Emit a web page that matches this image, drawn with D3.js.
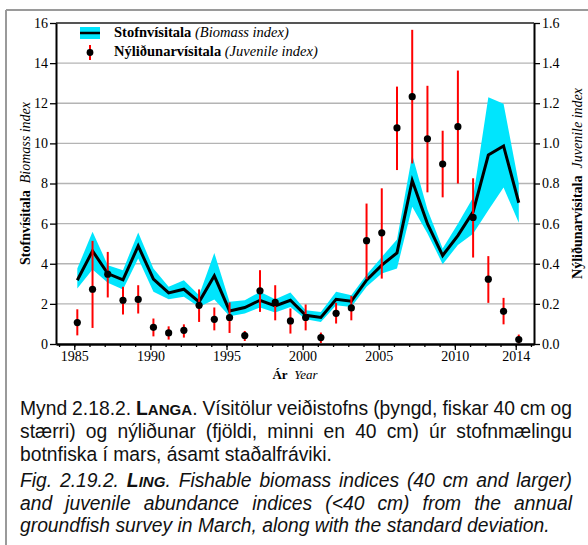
<!DOCTYPE html>
<html><head><meta charset="utf-8">
<script src="https://cdn.jsdelivr.net/npm/d3@7"></script>
<style>body{margin:0;background:#fff} svg{display:block}</style>
</head><body><svg id="c" width="588" height="545"></svg>
<script>
// ---------- data ----------
const years = d3.range(1985, 2015);
const biomass     = [3.18,4.64,3.51,3.20,4.89,3.23,2.55,2.73,2.10,3.40,1.65,1.82,2.18,1.90,2.18,1.43,1.32,2.23,2.13,3.18,3.93,4.54,8.15,6.00,4.41,5.40,6.59,9.42,9.87,7.04];
const biomassHigh = [3.76,5.59,3.93,3.68,5.56,3.76,2.85,3.18,2.43,4.54,2.10,2.18,2.60,2.23,2.57,1.68,1.60,2.60,2.43,3.45,4.34,5.21,9.42,6.70,4.76,6.00,7.30,12.30,11.97,8.00];
const biomassLow  = [2.77,3.71,3.05,2.72,4.26,2.60,2.23,2.35,1.85,2.22,1.38,1.52,1.82,1.57,1.85,1.23,1.10,1.93,1.85,2.85,3.51,3.76,6.84,5.51,3.98,4.93,5.50,6.67,7.80,6.04];
const juvenile     = [0.107,0.273,0.348,0.218,0.222,0.083,0.055,0.068,0.193,0.123,0.132,0.042,0.265,0.207,0.115,0.132,0.032,0.153,0.180,0.515,0.554,1.077,1.233,1.023,0.897,1.083,0.631,0.323,0.163,0.022];
const juvenileHigh = [0.173,0.514,0.459,0.285,0.293,0.127,0.088,0.098,0.272,0.182,0.207,0.065,0.368,0.293,0.177,0.197,0.057,0.205,0.240,0.700,0.776,1.283,1.566,1.287,1.063,1.363,0.826,0.438,0.230,0.047];
const juvenileLow  = [0.043,0.080,0.232,0.147,0.152,0.038,0.022,0.032,0.110,0.068,0.055,0.015,0.160,0.118,0.052,0.068,0.005,0.102,0.118,0.323,0.326,0.867,0.900,0.756,0.731,0.800,0.431,0.205,0.098,0.002];
const leftTicks  = [0,2,4,6,8,10,12,14,16];
const rightTicks = [0,0.2,0.4,0.6,0.8,1.0,1.2,1.4,1.6];
const yearTicks  = [1985,1990,1995,2000,2005,2010,2014];
const minorYearTicks = d3.range(1984, 2016);
const legendLabels = [["Stofnvísitala","(Biomass index)"],["Nýliðunarvísitala","(Juvenile index)"]];
const leftTitle = ["Stofnvísitala","Biomass index"];
const rightTitle = ["Nýliðunarvísitala","Juvenile index"];
const xTitle = ["Ár","Year"];
const captionIs = [
  "Mynd 2.18.2. LANGA. Vísitölur veiðistofns (þyngd, fiskar 40 cm og",
  "stærri) og nýliðunar (fjöldi, minni en 40 cm) úr stofnmælingu",
  "botnfiska í mars, ásamt staðalfráviki."];
const captionEn = [
  "Fig. 2.19.2. LING. Fishable biomass indices (40 cm and larger)",
  "and juvenile abundance indices (<40 cm) from the annual",
  "groundfish survey in March, along with the standard deviation."];

// ---------- layout ----------
const svg = d3.select("#c");
const L = 56, R = 534, T = 23, B = 344;
const serif = "Liberation Serif, Times New Roman, serif";
const sans = "Liberation Sans, Arial, sans-serif";
const off = 0.2;

const x = d3.scaleLinear().domain([1983.8, 2015.2]).range([L, R]);
const yL = d3.scaleLinear().domain([0, 16]).range([B, T]);
const yR = d3.scaleLinear().domain([0, 1.6]).range([B, T]);

// outer frame
svg.append("line").attr("x1",6).attr("x2",588).attr("y1",10).attr("y2",10).attr("stroke","#9a9a9a").attr("stroke-width",2);
svg.append("line").attr("x1",6).attr("x2",6).attr("y1",10).attr("y2",545).attr("stroke","#9a9a9a").attr("stroke-width",2);

// gridlines
svg.append("g").selectAll("line").data(leftTicks.filter(d => d > 0 && d < 16)).join("line")
  .attr("x1", L).attr("x2", R).attr("y1", d => yL(d)).attr("y2", d => yL(d))
  .attr("stroke", "#b4b4b4").attr("stroke-width", 1.3);
svg.append("line").attr("x1", L).attr("x2", R).attr("y1", T).attr("y2", T).attr("stroke", "#555").attr("stroke-width", 2);

// band
const area = d3.area().x((d,i) => x(years[i] + off)).y0((d,i) => yL(biomassLow[i])).y1((d,i) => yL(biomassHigh[i]));
svg.append("path").datum(biomass).attr("d", area).attr("fill", "#00e5fd");
const line = d3.line().x((d,i) => x(years[i] + off)).y(d => yL(d));
svg.append("path").datum(biomass).attr("d", line).attr("fill", "none").attr("stroke", "#000").attr("stroke-width", 3).attr("stroke-linejoin","miter");

// error bars + points
svg.append("g").selectAll("line").data(juvenile).join("line")
  .attr("x1", (d,i) => x(years[i] + off)).attr("x2", (d,i) => x(years[i] + off))
  .attr("y1", (d,i) => yR(juvenileLow[i])).attr("y2", (d,i) => yR(juvenileHigh[i]))
  .attr("stroke", "#ff0000").attr("stroke-width", 2);
svg.append("g").selectAll("circle").data(juvenile).join("circle")
  .attr("cx", (d,i) => x(years[i] + off)).attr("cy", d => yR(d)).attr("r", 3.6).attr("fill", "#000");

// axes
function styleAxis(g) {
  g.select(".domain").attr("stroke", "#000").attr("stroke-width", 2);
  g.selectAll(".tick line").attr("stroke", "#000").attr("stroke-width", 1.3);
  g.selectAll(".tick text").attr("font-family", serif).attr("font-size", 14).attr("fill", "#000");
}
svg.append("g").attr("transform", `translate(${L},0)`)
  .call(d3.axisLeft(yL).tickValues(leftTicks).tickSize(6).tickSizeOuter(0).tickPadding(2).tickFormat(d3.format("d")))
  .call(styleAxis);
svg.append("g").attr("transform", `translate(${R},0)`)
  .call(d3.axisRight(yR).tickValues(rightTicks).tickSize(6).tickSizeOuter(0).tickPadding(2).tickFormat(d3.format(".1f")))
  .call(styleAxis);
svg.append("g").attr("transform", `translate(0,${B})`)
  .call(d3.axisBottom(x).tickValues(minorYearTicks.filter(d => d >= 1984 && d <= 2015)).tickSize(3).tickSizeOuter(0).tickFormat(""))
  .call(styleAxis);
svg.append("g").attr("transform", `translate(0,${B})`)
  .call(d3.axisBottom(x).tickValues(yearTicks).tickSize(6).tickSizeOuter(0).tickPadding(1).tickFormat(d3.format("d")))
  .call(styleAxis);

// axis titles
function twoPart(t, parts, size) {
  t.attr("font-family", serif).attr("font-size", size).attr("fill", "#000");
  t.append("tspan").attr("font-weight", "bold").text(parts[0]);
  t.append("tspan").attr("font-style", "italic").text("\u00a0\u00a0" + parts[1]);
}
twoPart(svg.append("text").attr("text-anchor","middle").attr("transform", `translate(30,${(T+B)/2}) rotate(-90)`), leftTitle, 14);
twoPart(svg.append("text").attr("text-anchor","middle").attr("transform", `translate(582,${(T+B)/2}) rotate(-90)`), rightTitle, 14);
twoPart(svg.append("text").attr("text-anchor","middle").attr("x", (L+R)/2).attr("y", 379), xTitle, 13);

// legend
svg.append("rect").attr("x", 80).attr("y", 27).attr("width", 20).attr("height", 12).attr("fill", "#00e5fd");
svg.append("line").attr("x1", 80).attr("x2", 100).attr("y1", 33).attr("y2", 33).attr("stroke", "#000").attr("stroke-width", 2.5);
svg.append("line").attr("x1", 90).attr("x2", 90).attr("y1", 45).attr("y2", 60).attr("stroke", "#ff0000").attr("stroke-width", 2);
svg.append("circle").attr("cx", 90).attr("cy", 52.5).attr("r", 3.4).attr("fill", "#000");
legendLabels.forEach((p, i) => {
  const t = svg.append("text").attr("x", 114).attr("y", 37 + i * 19).attr("font-family", serif).attr("font-size", 14.5);
  t.append("tspan").attr("font-weight", "bold").text(p[0]);
  t.append("tspan").attr("font-style", "italic").text(" " + p[1]);
});

// caption (justified)
const X0 = 20, X1 = 572, FS = 19.3;
function addWord(g, w, y, italic) {
  const t = g.append("text").attr("y", y).attr("font-family", sans).attr("font-size", FS).attr("fill", "#111")
    .attr("font-style", italic ? "italic" : "normal");
  const m = w.match(/^(LANGA|LING)(.*)$/);
  if (m) {
    t.append("tspan").attr("font-weight", "bold").text(m[1][0]);
    t.append("tspan").attr("font-weight", "bold").attr("font-size", FS * 0.78).text(m[1].slice(1));
    t.append("tspan").text(m[2]);
  } else t.text(w);
  return t;
}
function drawLine(str, y, justify, italic) {
  const g = svg.append("g");
  const words = str.split(" ");
  const nodes = words.map(w => addWord(g, w, y, italic));
  const widths = nodes.map(n => n.node().getComputedTextLength());
  const gap = justify ? Math.max(FS * 0.2, (X1 - X0 - d3.sum(widths)) / (nodes.length - 1)) : FS * 0.278;
  let cx = X0;
  nodes.forEach((n, i) => { n.attr("x", cx); cx += widths[i] + gap; });
}
captionIs.forEach((s, i) => drawLine(s, 415 + i * 23, i < captionIs.length - 1, false));
captionEn.forEach((s, i) => drawLine(s, 487 + i * 22.5, i < captionEn.length - 1, true));
</script></body></html>
